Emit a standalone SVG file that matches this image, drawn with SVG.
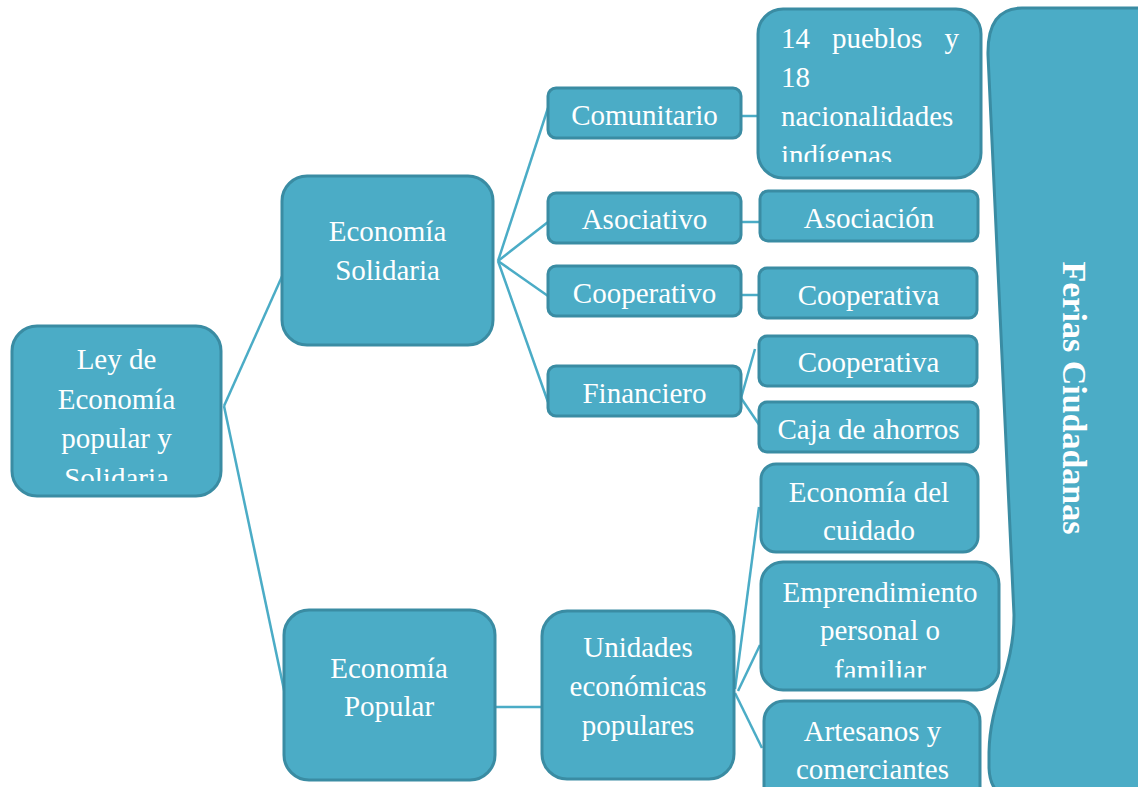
<svg xmlns="http://www.w3.org/2000/svg" width="1138" height="787" viewBox="0 0 1138 787">
<style>
.box{fill:#4bacc6;stroke:#3a8ca3;stroke-width:3}
.t{font-family:"Liberation Serif","Times New Roman",serif;font-size:29px;fill:#ffffff;text-anchor:middle}
.tl{text-anchor:start}
.te{text-anchor:end}
.big{font-family:"Liberation Serif","Times New Roman",serif;font-size:34px;font-weight:bold;fill:#ffffff;text-anchor:middle}
.c{fill:none;stroke:#4bacc6;stroke-width:2.5}
</style>
<defs>
<clipPath id="clipLey"><rect x="0" y="300" width="240" height="181"/></clipPath>
<clipPath id="clipPueblos"><rect x="750" y="0" width="240" height="162"/></clipPath>
<clipPath id="clipEmp"><rect x="750" y="560" width="260" height="117.5"/></clipPath>
</defs>
<rect width="1138" height="787" fill="#ffffff"/>

<g id="connectors">
<line class="c" x1="224" y1="406" x2="288" y2="263"/>
<line class="c" x1="224" y1="406" x2="287" y2="704"/>
<line class="c" x1="498" y1="261" x2="548" y2="108"/>
<line class="c" x1="498" y1="261" x2="548" y2="222"/>
<line class="c" x1="498" y1="261" x2="548" y2="296"/>
<line class="c" x1="498" y1="261" x2="548" y2="402"/>
<line class="c" x1="741" y1="116" x2="760" y2="116"/>
<line class="c" x1="741" y1="222" x2="761" y2="222"/>
<line class="c" x1="741" y1="295" x2="760" y2="295"/>
<line class="c" x1="741" y1="398" x2="755" y2="349"/>
<line class="c" x1="741" y1="398" x2="760" y2="426"/>
<line class="c" x1="495" y1="707" x2="543" y2="707"/>
<line class="c" x1="735" y1="689" x2="759" y2="507"/>
<line class="c" x1="738" y1="691" x2="760" y2="645"/>
<line class="c" x1="735" y1="693" x2="762" y2="748"/>
</g>

<g id="ferias">
<path class="box" d="M 988 55 Q 987 8 1022 8 H 1150 V 800 H 1018 Q 990 798 989 768 L 989 752 C 990 700 1014 670 1014 615 L 988 55 Z"/>
<text class="big" transform="translate(1063,398) rotate(90)">Ferias Ciudadanas</text>
</g>

<g id="ley">
<rect class="box" x="12" y="326" width="209" height="170" rx="25"/>
<g clip-path="url(#clipLey)">
<text class="t" x="116.5" y="369">Ley de</text>
<text class="t" x="116.5" y="408.5">Economía</text>
<text class="t" x="116.5" y="448">popular y</text>
<text class="t" x="116.5" y="487.5">Solidaria</text>
</g>
</g>

<g id="economia-solidaria">
<rect class="box" x="282" y="176" width="211" height="169" rx="25"/>
<text class="t" x="387.5" y="241">Economía</text>
<text class="t" x="387.5" y="279.5">Solidaria</text>
</g>

<g id="economia-popular">
<rect class="box" x="284" y="610" width="211" height="170" rx="25"/>
<text class="t" x="389" y="677.5">Economía</text>
<text class="t" x="389" y="716">Popular</text>
</g>

<g id="comunitario">
<rect class="box" x="548" y="88" width="193" height="50" rx="8"/>
<text class="t" x="644.5" y="125">Comunitario</text>
</g>

<g id="asociativo">
<rect class="box" x="548" y="193" width="193" height="50" rx="8"/>
<text class="t" x="644.5" y="229">Asociativo</text>
</g>

<g id="cooperativo">
<rect class="box" x="548" y="266" width="193" height="50" rx="8"/>
<text class="t" x="644.5" y="303">Cooperativo</text>
</g>

<g id="financiero">
<rect class="box" x="548" y="366" width="193" height="50" rx="8"/>
<text class="t" x="644.5" y="402.5">Financiero</text>
</g>

<g id="unidades">
<rect class="box" x="542" y="611" width="192" height="168" rx="25"/>
<text class="t" x="638" y="657">Unidades</text>
<text class="t" x="638" y="696">económicas</text>
<text class="t" x="638" y="735">populares</text>
</g>

<g id="pueblos">
<rect class="box" x="758" y="9" width="223" height="169" rx="25"/>
<g clip-path="url(#clipPueblos)">
<text class="t tl" x="781" y="48">14</text>
<text class="t tl" x="832" y="48">pueblos</text>
<text class="t te" x="959" y="48">y</text>
<text class="t tl" x="781" y="87">18</text>
<text class="t tl" x="781" y="126">nacionalidades</text>
<text class="t tl" x="781" y="165">indígenas</text>
</g>
</g>

<g id="asociacion">
<rect class="box" x="760" y="191" width="218" height="50" rx="8"/>
<text class="t" x="869" y="227.5">Asociación</text>
</g>

<g id="cooperativa-1">
<rect class="box" x="759" y="268" width="218" height="50" rx="8"/>
<text class="t" x="868.5" y="304.5">Cooperativa</text>
</g>

<g id="cooperativa-2">
<rect class="box" x="759" y="336" width="218" height="50" rx="8"/>
<text class="t" x="868.5" y="372">Cooperativa</text>
</g>

<g id="caja">
<rect class="box" x="759" y="402" width="219" height="50" rx="8"/>
<text class="t" x="868.5" y="438.5">Caja de ahorros</text>
</g>

<g id="cuidado">
<rect class="box" x="761" y="464" width="217" height="88" rx="15"/>
<text class="t" x="869" y="501.5">Economía del</text>
<text class="t" x="869" y="540">cuidado</text>
</g>

<g id="emprendimiento">
<rect class="box" x="761" y="562" width="238" height="128" rx="22"/>
<g clip-path="url(#clipEmp)">
<text class="t" x="880" y="601.5">Emprendimiento</text>
<text class="t" x="880" y="640">personal o</text>
<text class="t" x="880" y="679.5">familiar</text>
</g>
</g>

<g id="artesanos">
<rect class="box" x="764" y="701" width="216" height="110" rx="20"/>
<text class="t" x="872.5" y="740.5">Artesanos y</text>
<text class="t" x="872.5" y="778.5">comerciantes</text>
</g>
</svg>
